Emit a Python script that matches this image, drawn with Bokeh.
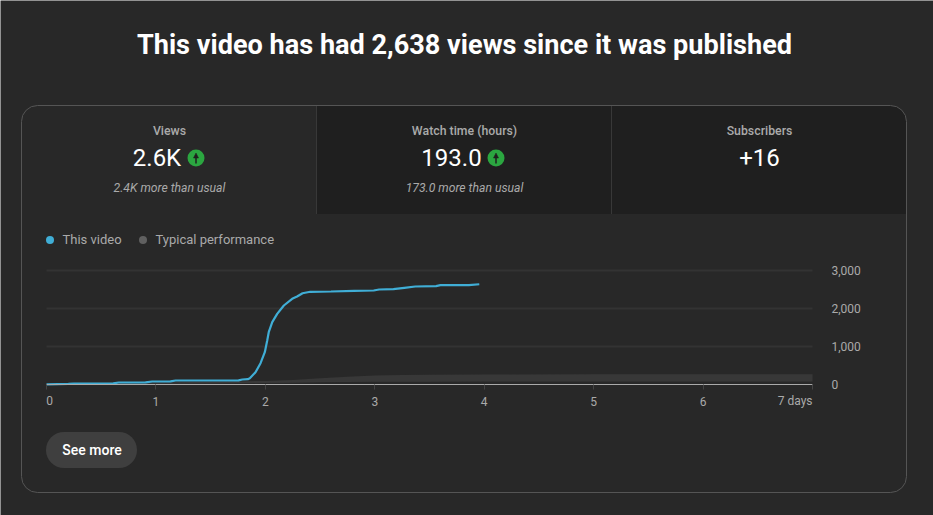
from bokeh.plotting import figure
from bokeh.embed import file_html
from bokeh.resources import INLINE
from bokeh.models import (BoxAnnotation, Label, Range1d, LinearAxis, FixedTicker, Arrow, NormalHead)

# ---- data
line_days = [0, 0.20, 0.25, 0.61, 0.66, 0.905, 0.966, 1.133, 1.18, 1.755, 1.79, 1.84, 1.858, 1.91, 1.956, 1.995,
             2.017, 2.031, 2.063, 2.108, 2.169, 2.245, 2.29, 2.34, 2.41, 2.6, 2.81, 2.99, 3.04, 3.17, 3.27, 3.37,
             3.56, 3.6, 3.86, 3.955]
line_views = [5, 15, 26, 30, 53, 55, 79, 82, 105, 110, 132, 140, 166, 324, 561, 850,
              1158, 1376, 1640, 1860, 2079, 2255, 2316, 2402, 2440, 2447, 2465, 2474, 2500, 2509, 2544, 2579,
              2588, 2614, 2614, 2638]
band_days = [0, 0.5, 1, 1.5, 2, 2.25, 2.5, 2.75, 3, 3.25, 3.5, 4, 5, 6, 7]
band_upper = [10, 30, 50, 70, 95, 120, 165, 205, 235, 250, 258, 265, 268, 270, 270]
band_lower = [0, 8, 18, 28, 38, 48, 58, 65, 70, 73, 75, 78, 80, 80, 80]
x_ticks = [0, 1, 2, 3, 4, 5, 6, 7]
y_ticks = [0, 1000, 2000, 3000]
title = "This video has had 2,638 views since it was published"
metric_names = ["Views", "Watch time (hours)", "Subscribers"]
metric_values = ["2.6K", "193.0", "+16"]
metric_notes = ["2.4K more than usual", "173.0 more than usual", ""]

BG = "#282828"
W, H = 933, 515
PPD = (812 - 46) / 7
PPV = (384 - 270) / 3000
BLUE = "#40aed6"

p = figure(width=W, height=H, output_backend="svg", toolbar_location=None,
           x_range=Range1d(-46 / PPD, (W - 46) / PPD),
           y_range=Range1d(-(H - 384) / PPV, 384 / PPV),
           x_axis_type=None, y_axis_type=None,
           min_border_left=0, min_border_right=0, min_border_top=0, min_border_bottom=0,
           background_fill_color=BG, border_fill_color=BG, outline_line_color=None)


def box(l, r, t, b, fill=None, line=None, radius=0, lw=1, level="underlay"):
    p.add_layout(BoxAnnotation(left=l - 0.5, right=r - 0.5, top=t - 0.5, bottom=b - 0.5,
                               left_units="canvas", right_units="canvas", top_units="canvas", bottom_units="canvas",
                               fill_color=fill, fill_alpha=1 if fill else 0,
                               line_color=line, line_alpha=1 if line else 0, line_width=lw,
                               border_radius=radius, level=level, editable=False))


def text(x, y, s, size, color, style="normal", align="center", font="Roboto"):
    p.add_layout(Label(x=x, y=y, x_units="canvas", y_units="canvas", text=s,
                       text_font=font, text_font_size=f"{size}px", text_color=color, text_font_style=style,
                       text_align=align, text_baseline="middle"))


# panel
box(316.5, 906.5, 105.5, 214, fill="#1f1f1f", radius=(0, 16, 0, 0))
box(316, 317, 106, 214, fill="#383838")
box(611, 612, 106, 214, fill="#383838")
box(21.5, 906.5, 105.5, 492.5, line="#555555", radius=16)

# title
text(464, 44, title, 27.1, "#ffffff", style="bold")

# metrics
cx = [169, 464, 759]
vx = [156.5, 451, 759]
for i in range(3):
    text(cx[i], 130, metric_names[i], 12.3, "#aaaaaa", font="Roboto Medium")
    text(vx[i], 157, metric_values[i], 24, "#ffffff")
    if metric_notes[i]:
        text(cx[i], 187, metric_notes[i], 12.2, "#aaaaaa", style="italic")

# up-arrows
for c in (196, 496):
    box(c - 8.5, c + 8.5, 149.5, 166.5, fill="#2ba640", radius=9)
    p.add_layout(Arrow(x_start=c - 0.5, y_start=163, x_end=c - 0.5, y_end=152.5,
                       start_units="canvas", end_units="canvas",
                       line_color="#1f1f1f", line_width=1.5,
                       end=NormalHead(size=5, fill_color="#1f1f1f", line_color="#1f1f1f", line_width=0.5)))

# legend
box(46, 54, 236, 244, fill=BLUE, radius=4)
box(139, 147, 236, 244, fill="#606060", radius=4)
text(62, 239, "This video", 13, "#aaaaaa", align="left")
text(155, 239, "Typical performance", 13, "#aaaaaa", align="left")

# button
box(46, 137, 432, 468, fill="#3f3f3f", radius=18)
text(91.5, 449, "See more", 14, "#ffffff", font="Roboto Medium")

# axes, inside the full-canvas frame
xa = LinearAxis(ticker=FixedTicker(ticks=x_ticks), fixed_location=0, bounds=(x_ticks[0], x_ticks[-1]),
                major_label_overrides={0: "", 7: ""},
                major_label_text_font="Roboto", major_label_text_font_size="12px",
                major_label_text_color="#aaaaaa", major_label_standoff=7,
                axis_line_color="#aaaaaa", axis_line_width=1,
                major_tick_line_color="#444444", major_tick_out=5, major_tick_in=0, minor_tick_line_color=None)
p.add_layout(xa, "below")
ya = LinearAxis(ticker=FixedTicker(ticks=y_ticks), fixed_location=7, bounds=(y_ticks[0], y_ticks[-1]),
                major_label_overrides={0: "0", 1000: "1,000", 2000: "2,000", 3000: "3,000"},
                major_label_text_font="Roboto", major_label_text_font_size="12px",
                major_label_text_color="#aaaaaa", major_label_standoff=13,
                axis_line_color=None, major_tick_line_color=None, minor_tick_line_color=None)
p.add_layout(ya, "right")
for v in y_ticks[1:]:
    p.line([x_ticks[0], x_ticks[-1]], [v, v], line_color="#333333", line_width=2)

p.add_layout(Label(x=0, y=0, x_offset=3, y_offset=-16, text="0", text_font="Roboto", text_font_size="12px",
                   text_color="#aaaaaa", text_align="center", text_baseline="middle"))
p.add_layout(Label(x=7, y=0, y_offset=-16, text="7 days", text_font="Roboto", text_font_size="12px",
                   text_color="#aaaaaa", text_align="right", text_baseline="middle"))

p.varea(band_days, band_lower, band_upper, fill_color="#383838")
p.line(line_days, line_views, line_color=BLUE, line_width=2.2)

open("out.html", "w").write(file_html(p, INLINE))
